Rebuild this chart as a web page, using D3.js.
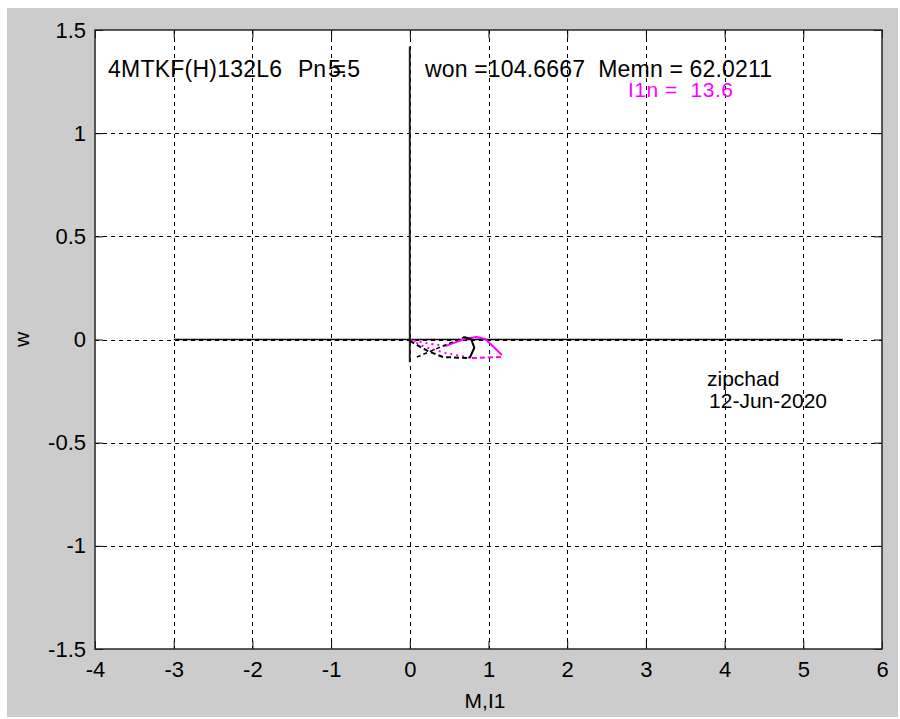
<!DOCTYPE html>
<html>
<head>
<meta charset="utf-8">
<script src="https://cdn.jsdelivr.net/npm/d3@7"></script>
<style>
  html, body { margin: 0; padding: 0; background: #ffffff; }
  svg { display: block; }
  text { font-family: "Liberation Sans", Arial, sans-serif; fill: #000; white-space: pre; }
</style>
</head>
<body>
<script>
// Axis limits and tick values
const xDomain = [-4, 6];
const yDomain = [-1.5, 1.5];
const xTicks = [-4, -3, -2, -1, 0, 1, 2, 3, 4, 5, 6];
const yTicks = [-1.5, -1, -0.5, 0, 0.5, 1, 1.5];

// Reference lines through the origin
const hLineM = [-3, 5.5];
const hLineW = [0, 0];
const vLineM = [0, 0];
const vLineW = [-0.11, 1.42];

// Black trajectory (M, w)
const blackDashM = [0.0, 0.23, 0.42, 0.76];
const blackDashW = [-0.007, -0.056, -0.085, -0.09];
const blackSolidM = [0.76, 0.82, 0.78, 0.69];
const blackSolidW = [-0.09, -0.04, 0.002, 0.012];
const blackDiagM = [0.09, 0.69];
const blackDiagW = [-0.085, 0.012];

// Magenta trajectory (I1, w)
const magDotLowM = [0.015, 0.19, 0.45, 0.79];
const magDotLowW = [-0.002, -0.036, -0.065, -0.09];
const magDashM = [0.79, 1.17];
const magDashW = [-0.09, -0.085];
const magSolidM = [1.17, 0.96, 0.85, 0.71, 0.45];
const magSolidW = [-0.075, 0.002, 0.012, 0.005, -0.032];
const magDotUpM = [0.45, 0.2, 0.015];
const magDotUpW = [-0.032, -0.017, -0.002];

// Annotation values
const motorName = "4MTKF(H)132L6";
const pnValue = "5.5";
const wonText = "won =104.6667  Memn = 62.0211";
const i1nText = "I1n =  13.6";
const authorText = "zipchad";
const dateText = "12-Jun-2020";

const W = 900, H = 719;
const plot = { left: 95, right: 882, top: 30, bottom: 649 };

const svg = d3.select("body").append("svg")
  .attr("width", W).attr("height", H);

// figure background
svg.append("rect").attr("x", 7).attr("y", 8)
  .attr("width", 891).attr("height", 709).attr("fill", "#cccccc");

// axes background
svg.append("rect").attr("x", plot.left).attr("y", plot.top)
  .attr("width", plot.right - plot.left).attr("height", plot.bottom - plot.top)
  .attr("fill", "#ffffff");

const x = d3.scaleLinear().domain(xDomain).range([plot.left, plot.right]);
const y = d3.scaleLinear().domain(yDomain).range([plot.bottom, plot.top]);

// grid
const grid = svg.append("g").attr("stroke", "#000").attr("stroke-width", 1)
  .attr("stroke-dasharray", "4,4");
xTicks.filter(v => v > xDomain[0] && v < xDomain[1]).forEach(v => {
  grid.append("line").attr("x1", Math.round(x(v)) + 0.5).attr("x2", Math.round(x(v)) + 0.5)
    .attr("y1", plot.top).attr("y2", plot.bottom);
});
yTicks.filter(v => v > yDomain[0] && v < yDomain[1]).forEach(v => {
  grid.append("line").attr("y1", Math.round(y(v)) + 0.5).attr("y2", Math.round(y(v)) + 0.5)
    .attr("x1", plot.left).attr("x2", plot.right);
});

// axes with inward ticks on all four sides
const tickLen = 8;
const axB = d3.axisBottom(x).tickValues(xTicks).tickSize(-tickLen).tickPadding(12).tickFormat(d => String(d));
const axT = d3.axisTop(x).tickValues(xTicks).tickSize(-tickLen).tickFormat("");
const axL = d3.axisLeft(y).tickValues(yTicks).tickSize(-tickLen).tickPadding(9).tickFormat(d => String(d));
const axR = d3.axisRight(y).tickValues(yTicks).tickSize(-tickLen).tickFormat("");

function styleAxis(g) {
  g.select(".domain").remove();
  g.selectAll(".tick line").attr("stroke", "#000").attr("stroke-width", 1);
  g.selectAll(".tick text").attr("font-size", 22).attr("fill", "#000")
    .attr("font-family", "'Liberation Sans', Arial, sans-serif");
}
svg.append("g").attr("transform", `translate(0,${plot.bottom})`).call(axB).call(styleAxis);
svg.append("g").attr("transform", `translate(0,${plot.top})`).call(axT).call(styleAxis);
svg.append("g").attr("transform", `translate(${plot.left},0)`).call(axL).call(styleAxis);
svg.append("g").attr("transform", `translate(${plot.right},0)`).call(axR).call(styleAxis);

// axes box
svg.append("rect").attr("x", plot.left).attr("y", plot.top)
  .attr("width", plot.right - plot.left).attr("height", plot.bottom - plot.top)
  .attr("fill", "none").attr("stroke", "#262626").attr("stroke-width", 1.5);

// helper for drawing a line series from paired arrays
const lineGen = d3.line().x(d => x(d[0])).y(d => y(d[1]));
function series(ms, ws, color, width, dash) {
  const pts = ms.map((m, i) => [m, ws[i]]);
  const p = svg.append("path").datum(pts).attr("d", lineGen)
    .attr("fill", "none").attr("stroke", color).attr("stroke-width", width)
    .attr("stroke-linejoin", "round");
  if (dash) p.attr("stroke-dasharray", dash);
  return p;
}

// reference lines
series(hLineM, hLineW, "#000", 1.5);
series(vLineM, vLineW, "#222", 2);

// trajectories
series(magDotLowM, magDotLowW, "#ff00ff", 2, "2,4");
series(magDashM, magDashW, "#ff00ff", 2, "5,3");
series(magSolidM, magSolidW, "#ff00ff", 2);
series(magDotUpM, magDotUpW, "#ff00ff", 2, "2,4");
series(blackDashM, blackDashW, "#000", 2, "5,3");
series(blackDiagM, blackDiagW, "#000", 1.5, "4,3");
series(blackSolidM, blackSolidW, "#000", 2);

// annotations (widths set to the rendered string lengths)
const ann = svg.append("g");
function label(tx, ty, size, len, str, color) {
  const t = ann.append("text").attr("x", tx).attr("y", ty).attr("font-size", size).text(str);
  if (len) t.attr("textLength", len).attr("lengthAdjust", "spacing");
  if (color) t.style("fill", color);
  return t;
}
label(108, 77, 23, 174, motorName);
label(298, 77, 23, null, "Pn =");
label(328, 77, 23, null, pnValue);
label(425, 77, 23, 347, wonText);
label(628, 97, 21, 105, i1nText, "#ff00ff");
label(707, 386, 21, null, authorText);
label(709, 408, 21, 118, dateText);

// axis labels
svg.append("text").attr("x", 485).attr("y", 708)
  .attr("text-anchor", "middle").attr("font-size", 21).text("M,I1");
svg.append("text").attr("transform", `translate(29,${y(0)}) rotate(-90)`)
  .attr("text-anchor", "middle").attr("font-size", 21).text("w");
</script>
</body>
</html>
